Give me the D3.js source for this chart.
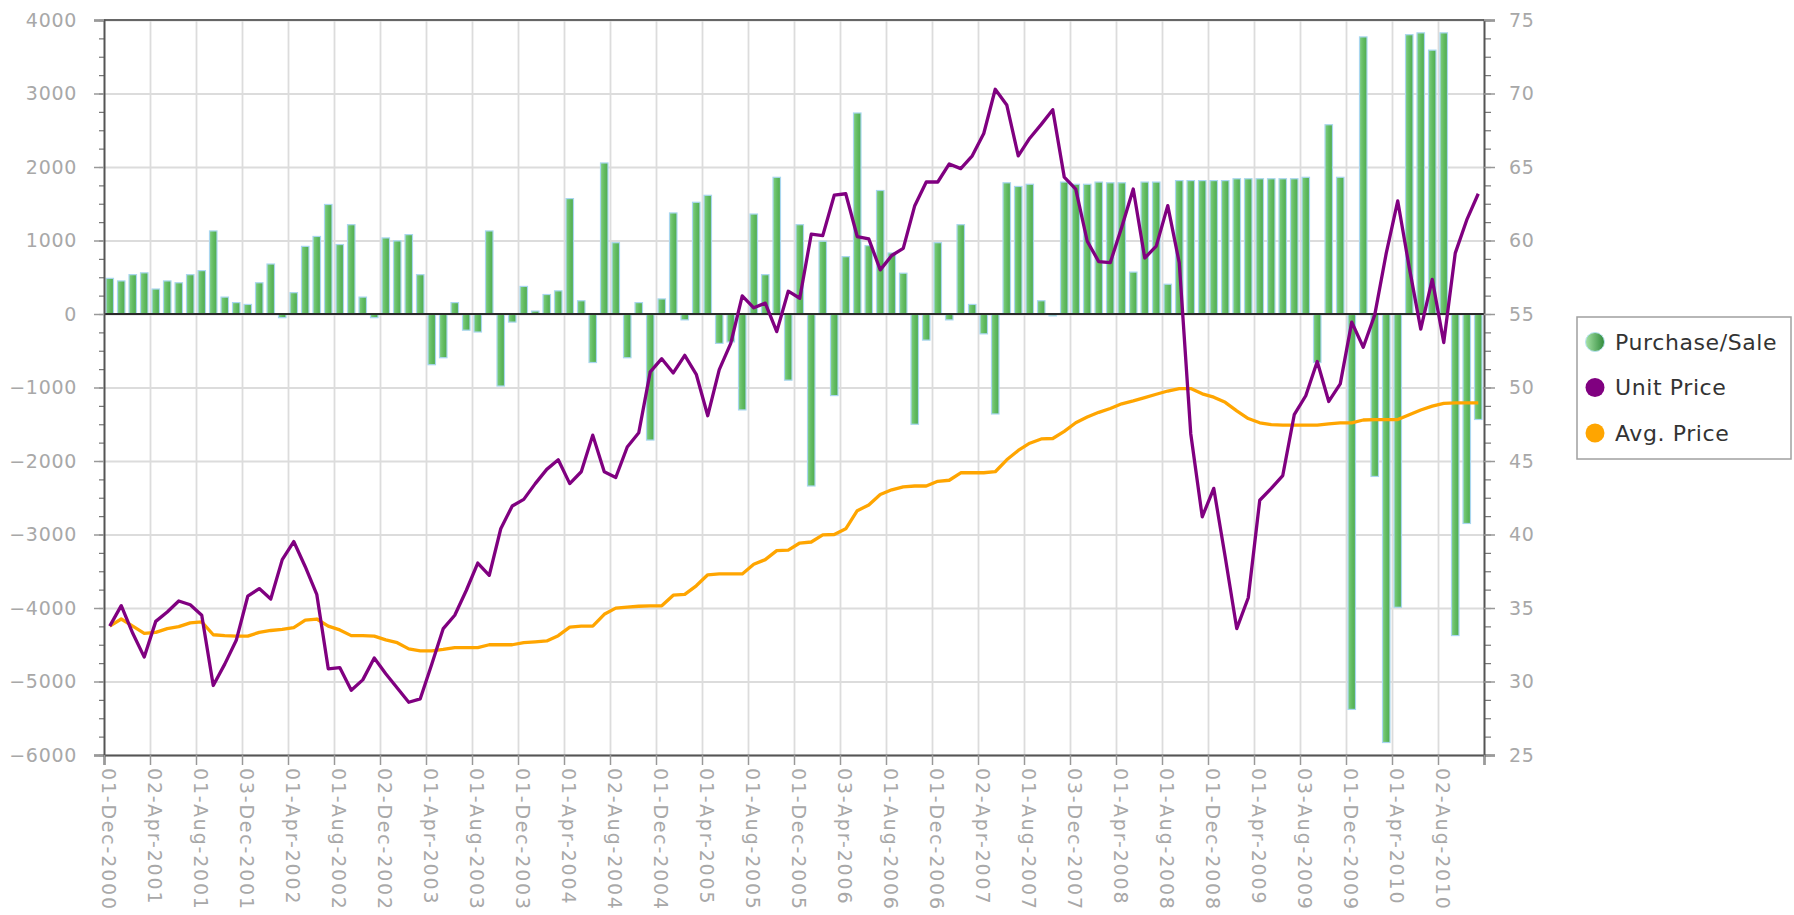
<!DOCTYPE html>
<html>
<head>
<meta charset="utf-8">
<script src="https://cdn.jsdelivr.net/npm/d3@7"></script>
<style>
  html, body { margin: 0; padding: 0; background: #ffffff; }
  svg { display: block; font-family: "DejaVu Sans", Verdana, sans-serif; }
</style>
</head>
<body>
<svg id="chart" width="1794" height="915"></svg>
<script>
"use strict";

// labels shown under every 4th month (Dec 2000 .. Nov 2010, 120 months)
var tickLabels = ['01-Dec-2000', '02-Apr-2001', '01-Aug-2001', '03-Dec-2001', '01-Apr-2002',
  '01-Aug-2002', '02-Dec-2002', '01-Apr-2003', '01-Aug-2003', '01-Dec-2003', '01-Apr-2004',
  '02-Aug-2004', '01-Dec-2004', '01-Apr-2005', '01-Aug-2005', '01-Dec-2005', '03-Apr-2006',
  '01-Aug-2006', '01-Dec-2006', '02-Apr-2007', '01-Aug-2007', '03-Dec-2007', '01-Apr-2008',
  '01-Aug-2008', '01-Dec-2008', '01-Apr-2009', '03-Aug-2009', '01-Dec-2009', '01-Apr-2010',
  '02-Aug-2010'];

var purchase = [
  485, 450, 535, 560, 340, 450, 425, 535, 590, 1130, 230, 155, 130, 425, 680, -50, 290, 920, 1055, 1490,
  945, 1215, 230, -50, 1035, 995, 1080, 535, -690, -595, 155, -220, -245, 1130, -980, -110, 375, 40, 265, 315,
  1570, 180, -660, 2055, 970, -595, 155, -1715, 205, 1375, -80, 1520, 1615, -400, -380, -1305, 1360, 535, 1860, -900,
  1215, -2340, 990, -1110, 780, 2735, 930, 1680, 830, 555, -1500, -355, 970, -80, 1215, 130, -270, -1360, 1785, 1735,
  1765, 180, -25, 1795, 1765, 1765, 1795, 1785, 1785, 570, 1795, 1795, 405, 1815, 1815, 1815, 1815, 1815, 1840, 1840,
  1840, 1840, 1840, 1840, 1860, -660, 2575, 1860, -5380, 3770, -2210, -5830, -3990, 3800, 3825, 3590, 3825, -4375, -2850, -1435];

var unitPrice = [
  33.77, 35.16, 33.28, 31.66, 34.09, 34.73, 35.48, 35.22, 34.51, 29.73, 31.18, 32.80, 35.80, 36.32, 35.61, 38.29, 39.52, 37.81, 35.93, 30.86,
  30.95, 29.40, 30.11, 31.60, 30.53, 29.56, 28.59, 28.82, 31.18, 33.60, 34.51, 36.19, 38.06, 37.22, 40.39, 41.94, 42.39, 43.46, 44.43, 45.08,
  43.46, 44.27, 46.76, 44.27, 43.88, 45.95, 46.92, 51.06, 51.96, 50.99, 52.19, 50.90, 48.08, 51.22, 53.00, 56.23, 55.42, 55.74, 53.80, 56.55,
  56.07, 60.43, 60.33, 63.08, 63.18, 60.27, 60.11, 58.00, 58.98, 59.46, 62.37, 63.98, 63.98, 65.21, 64.89, 65.76, 67.28, 70.29, 69.22, 65.76,
  66.96, 67.90, 68.90, 64.31, 63.50, 59.95, 58.56, 58.49, 60.91, 63.50, 58.81, 59.62, 62.37, 58.49, 46.86, 41.20, 43.14, 38.45, 33.60, 35.70,
  42.33, 43.14, 44.01, 48.15, 49.44, 51.77, 49.05, 50.25, 54.45, 52.74, 54.94, 59.14, 62.69, 58.17, 53.97, 57.36, 53.06, 59.14, 61.40, 63.18];

var avgPrice = [
  33.77, 34.25, 33.77, 33.28, 33.34, 33.60, 33.73, 33.99, 34.05, 33.18, 33.12, 33.09, 33.09, 33.34, 33.47, 33.54, 33.67, 34.18, 34.25, 33.77,
  33.51, 33.12, 33.12, 33.09, 32.83, 32.64, 32.22, 32.09, 32.09, 32.18, 32.31, 32.31, 32.31, 32.50, 32.50, 32.50, 32.64, 32.70, 32.76, 33.12,
  33.70, 33.77, 33.77, 34.57, 34.99, 35.06, 35.12, 35.15, 35.15, 35.87, 35.93, 36.51, 37.26, 37.32, 37.32, 37.32, 37.97, 38.29, 38.90, 38.94,
  39.42, 39.49, 39.97, 40.00, 40.39, 41.62, 42.01, 42.72, 43.04, 43.24, 43.30, 43.30, 43.62, 43.69, 44.20, 44.20, 44.20, 44.27, 45.08, 45.72,
  46.21, 46.50, 46.53, 47.02, 47.60, 47.99, 48.31, 48.57, 48.89, 49.09, 49.31, 49.54, 49.76, 49.93, 49.93, 49.57, 49.34, 48.99, 48.41, 47.89,
  47.60, 47.47, 47.44, 47.44, 47.44, 47.44, 47.53, 47.60, 47.60, 47.79, 47.82, 47.82, 47.82, 48.15, 48.47, 48.73, 48.92, 48.96, 48.96, 48.96];

var legendItems = ['Purchase/Sale', 'Unit Price', 'Avg. Price'];
var colors = { bar: '#5cb85c', unit: '#800080', avg: '#ffa500' };

var Draw = (function() {
  var svg = d3.select('#chart');
  var left = 104, right = 1484, top = 20, bottom = 755;
  var n = purchase.length;

  var x = d3.scaleBand().domain(d3.range(n)).range([left, right])
    .paddingInner(0.35).paddingOuter(0.175);
  var xTicks = d3.scaleLinear().domain([0, n]).range([left, right]);
  var yL = d3.scaleLinear().domain([-6000, 4000]).range([bottom, top]);
  var yR = d3.scaleLinear().domain([25, 75]).range([bottom, top]);
  var cx = i => x(i) + x.bandwidth() / 2;

  var defs = svg.append('defs');
  var g1 = defs.append('linearGradient').attr('id', 'barGrad').attr('x1', 0).attr('x2', 1).attr('y1', 0).attr('y2', 0);
  g1.append('stop').attr('offset', 0).attr('stop-color', '#7fcf7f');
  g1.append('stop').attr('offset', 0.5).attr('stop-color', '#62bc62');
  g1.append('stop').attr('offset', 1).attr('stop-color', '#4eaa4e');
  var g2 = defs.append('linearGradient').attr('id', 'dotGrad').attr('x1', 0).attr('x2', 1).attr('y1', 0).attr('y2', 0);
  g2.append('stop').attr('offset', 0).attr('stop-color', '#a6e3a6');
  g2.append('stop').attr('offset', 1).attr('stop-color', '#2f8a3a');

  // grid
  svg.append('g').attr('class', 'grid')
    .attr('transform', 'translate(' + left + ',0)')
    .call(d3.axisLeft(yL).tickValues(d3.range(-6000, 4001, 1000)).tickSize(-(right - left)).tickFormat(''))
    .call(g => g.select('.domain').remove())
    .call(g => g.selectAll('line').attr('stroke', '#dcdcdc').attr('stroke-width', 1.8));
  svg.append('g').attr('class', 'grid')
    .attr('transform', 'translate(0,' + bottom + ')')
    .call(d3.axisBottom(xTicks).tickValues(d3.range(4, n, 4)).tickSize(-(bottom - top)).tickFormat(''))
    .call(g => g.select('.domain').remove())
    .call(g => g.selectAll('line').attr('stroke', '#dcdcdc').attr('stroke-width', 1.8));

  // bars
  svg.append('g').selectAll('rect').data(purchase).enter().append('rect')
    .attr('x', (d, i) => x(i))
    .attr('width', x.bandwidth())
    .attr('y', d => yL(Math.max(0, d)))
    .attr('height', d => Math.abs(yL(d) - yL(0)))
    .attr('fill', 'url(#barGrad)')
    .attr('stroke', '#a9d6ef')
    .attr('stroke-width', 1.2);

  // zero line
  svg.append('line')
    .attr('x1', left).attr('x2', right).attr('y1', yL(0)).attr('y2', yL(0))
    .attr('stroke', '#2a2a2a').attr('stroke-width', 2.2);

  // price lines
  var line = d3.line().x((d, i) => cx(i)).y(d => yR(d));
  svg.append('path').datum(avgPrice).attr('d', line)
    .attr('fill', 'none').attr('stroke', colors.avg).attr('stroke-width', 3.3).attr('stroke-linejoin', 'round');
  svg.append('path').datum(unitPrice).attr('d', line)
    .attr('fill', 'none').attr('stroke', colors.unit).attr('stroke-width', 3.3).attr('stroke-linejoin', 'round');

  // frame
  svg.append('line').attr('x1', left).attr('x2', right).attr('y1', top).attr('y2', top)
    .attr('stroke', '#666').attr('stroke-width', 2);

  // left axis
  svg.append('g').attr('transform', 'translate(' + left + ',0)')
    .call(d3.axisLeft(yL).tickValues(d3.range(-6000, 4001, 250)).tickSize(5).tickFormat(''))
    .call(g => g.select('.domain').remove())
    .call(g => g.selectAll('line').attr('stroke', '#777').attr('stroke-width', 1.2));
  svg.append('g').attr('transform', 'translate(' + left + ',0)')
    .call(d3.axisLeft(yL).tickValues(d3.range(-6000, 4001, 1000)).tickSize(10).tickPadding(17).tickFormat(d3.format('d')))
    .call(g => g.select('.domain').attr('stroke', '#555').attr('stroke-width', 2))
    .call(g => g.selectAll('line').attr('stroke', '#999').attr('stroke-width', 1.5))
    .call(g => g.selectAll('text').attr('fill', '#a8a8a8').style('font-size', '19px')
      .style('font-family', '"DejaVu Sans", Verdana, sans-serif').attr('letter-spacing', '0.7px'));

  // right axis
  svg.append('g').attr('transform', 'translate(' + right + ',0)')
    .call(d3.axisRight(yR).tickValues(d3.range(25, 75.01, 1.25)).tickSize(7).tickFormat(''))
    .call(g => g.select('.domain').remove())
    .call(g => g.selectAll('line').attr('stroke', '#777').attr('stroke-width', 1.2));
  svg.append('g').attr('transform', 'translate(' + right + ',0)')
    .call(d3.axisRight(yR).tickValues(d3.range(25, 76, 5)).tickSize(11).tickPadding(14).tickFormat(d3.format('d')))
    .call(g => g.select('.domain').attr('stroke', '#555').attr('stroke-width', 2))
    .call(g => g.selectAll('line').attr('stroke', '#999').attr('stroke-width', 1.5))
    .call(g => g.selectAll('text').attr('fill', '#a8a8a8').style('font-size', '19px')
      .style('font-family', '"DejaVu Sans", Verdana, sans-serif').attr('letter-spacing', '0.7px'));

  // bottom axis, labels turned to read downwards
  var xa = svg.append('g').attr('transform', 'translate(0,' + bottom + ')')
    .call(d3.axisBottom(xTicks).tickValues(d3.range(0, n + 1, 4)).tickSize(10)
      .tickFormat(d => tickLabels[d / 4] || ''));
  xa.select('.domain').attr('stroke', '#555').attr('stroke-width', 2);
  xa.selectAll('line').attr('stroke', '#999').attr('stroke-width', 1.5);
  xa.selectAll('text')
    .attr('fill', '#a8a8a8').style('font-size', '19px')
    .style('font-family', '"DejaVu Sans", Verdana, sans-serif')
    .attr('letter-spacing', '1.8px')
    .attr('text-anchor', 'start')
    .attr('x', 0).attr('y', 0).attr('dy', 0)
    .attr('transform', 'translate(-3,13) rotate(90)');

  // legend
  var lg = svg.append('g').attr('transform', 'translate(1577,317)');
  lg.append('rect').attr('width', 214).attr('height', 142)
    .attr('fill', '#fff').attr('stroke', '#a0a0a0').attr('stroke-width', 1.5);
  var fills = ['url(#dotGrad)', colors.unit, colors.avg];
  legendItems.forEach(function(name, k) {
    var yy = 25 + k * 45.5;
    lg.append('circle').attr('cx', 18).attr('cy', yy).attr('r', 9.5).attr('fill', fills[k])
      .attr('stroke', k === 0 ? '#b8e2f2' : 'none').attr('stroke-width', 1);
    lg.append('text').attr('x', 38).attr('y', yy).attr('dy', '0.36em')
      .attr('fill', '#333').style('font-size', '22px').attr('letter-spacing', '0.6px')
      .text(name);
  });
});

Draw();
</script>
</body>
</html>
